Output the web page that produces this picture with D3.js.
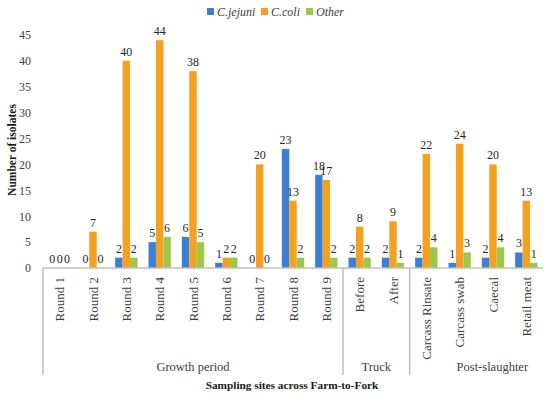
<!DOCTYPE html>
<html>
<head>
<meta charset="utf-8">
<script src="https://cdn.jsdelivr.net/npm/d3@7"></script>
<style>
  body { margin: 0; background: #fff; }
  svg { display: block; font-family: "Liberation Serif", "DejaVu Serif", serif; }
</style>
</head>
<body>
<div id="chart"></div>
<script>
// Chart data
const categories = ["Round 1", "Round 2", "Round 3", "Round 4", "Round 5", "Round 6", "Round 7", "Round 8", "Round 9",
    "Before", "After", "Carcass Rinsate", "Carcass swab", "Caecal", "Retail meat"];
const seriesNames = ["C.jejuni", "C.coli", "Other"];
const jejuni = [0, 0, 2, 5, 6, 1, 0, 23, 18, 2, 2, 2, 1, 2, 3];
const coli = [0, 7, 40, 44, 38, 2, 20, 13, 17, 8, 9, 22, 24, 20, 13];
const other = [0, 0, 2, 6, 5, 2, 0, 2, 2, 2, 1, 4, 3, 4, 1];
const groupNames = ["Growth period", "Truck", "Post-slaughter"];
const groupSizes = [9, 2, 4];
const yTicks = [0, 5, 10, 15, 20, 25, 30, 35, 40, 45];

const width = 550;
const height = 397;
const margin = { top: 35, right: 7, bottom: 129, left: 43 };
const colors = ["#3a7fd5", "#f5a01e", "#9dc94a"];

const series = [jejuni, coli, other];

const svg = d3.select("#chart")
    .append("svg")
    .attr("width", width)
    .attr("height", height);

// Scales
const x = d3.scaleBand()
    .domain(categories)
    .range([margin.left, width - margin.right])
    .paddingInner(0.33)
    .paddingOuter(0.165);

const xSub = d3.scaleBand()
    .domain(seriesNames)
    .range([0, x.bandwidth()]);

const y = d3.scaleLinear()
    .domain([0, 45])
    .range([height - margin.bottom, margin.top]);

const step = x.step();
const x0 = margin.left;

// Bars
const g = svg.append("g");
series.forEach((vals, si) => {
    g.selectAll(".bar" + si)
        .data(vals)
        .enter()
        .append("rect")
        .attr("x", (d, i) => x(categories[i]) + xSub(seriesNames[si]))
        .attr("y", d => y(d))
        .attr("width", xSub.bandwidth())
        .attr("height", d => y(0) - y(d))
        .style("fill", colors[si]);

    g.selectAll(".label" + si)
        .data(vals)
        .enter()
        .append("text")
        .attr("x", (d, i) => x(categories[i]) + xSub(seriesNames[si]) + xSub.bandwidth() / 2)
        .attr("y", d => y(d) - 5)
        .attr("text-anchor", "middle")
        .style("font-size", "12px")
        .style("fill", "#262626")
        .text(d => d);
});

// Y axis (labels only)
const yAxis = d3.axisLeft(y).tickValues(yTicks).tickSize(0).tickPadding(12);
svg.append("g")
    .attr("transform", "translate(" + margin.left + ",0)")
    .call(yAxis)
    .call(a => a.select(".domain").remove())
    .selectAll("text")
    .style("font-size", "12px")
    .style("font-family", "Liberation Serif, serif")
    .style("fill", "#404040");

// X axis line
svg.append("line")
    .attr("x1", x0)
    .attr("x2", x0 + step * categories.length)
    .attr("y1", y(0))
    .attr("y2", y(0))
    .style("stroke", "#bfbfbf")
    .style("stroke-width", 1.5);

// Category labels (rotated)
svg.selectAll(".cat")
    .data(categories)
    .enter()
    .append("text")
    .attr("transform", d => "translate(" + (x(d) + x.bandwidth() / 2 + 4.5) + "," + (y(0) + 9) + ") rotate(-90)")
    .attr("text-anchor", "end")
    .style("font-size", "13px")
    .style("fill", "#404040")
    .text(d => d);

// Group separators and labels
let start = 0;
const bounds = [0];
groupSizes.forEach(n => { start += n; bounds.push(start); });

svg.selectAll(".sep")
    .data(bounds.slice(0, -1))
    .enter()
    .append("line")
    .attr("x1", d => x0 + d * step)
    .attr("x2", d => x0 + d * step)
    .attr("y1", y(0))
    .attr("y2", 375)
    .style("stroke", "#bfbfbf")
    .style("stroke-width", 1.5);

svg.selectAll(".grp")
    .data(groupNames)
    .enter()
    .append("text")
    .attr("x", (d, i) => x0 + (bounds[i] + bounds[i + 1]) / 2 * step + (i === 2 ? 16 : 0))
    .attr("y", 371)
    .attr("text-anchor", "middle")
    .style("font-size", "12.5px")
    .style("fill", "#404040")
    .text(d => d);

// Axis titles
svg.append("text")
    .attr("x", 292)
    .attr("y", 389)
    .attr("text-anchor", "middle")
    .style("font-size", "11.3px")
    .style("font-weight", "bold")
    .style("fill", "#1a1a1a")
    .text("Sampling sites across Farm-to-Fork");

svg.append("text")
    .attr("transform", "translate(16,150) rotate(-90)")
    .attr("text-anchor", "middle")
    .style("font-size", "11.5px")
    .style("font-weight", "bold")
    .style("fill", "#1a1a1a")
    .text("Number of isolates");

// Legend
const legendX = [207, 261, 306];
const legend = svg.selectAll(".legend")
    .data(seriesNames)
    .enter()
    .append("g")
    .attr("transform", (d, i) => "translate(" + legendX[i] + ",7)");

legend.append("rect")
    .attr("width", 7)
    .attr("height", 7)
    .attr("y", 1)
    .style("fill", (d, i) => colors[i]);

legend.append("text")
    .attr("x", 10)
    .attr("y", 9)
    .style("font-size", "12px")
    .style("font-style", "italic")
    .style("fill", "#404040")
    .text(d => d);
</script>
</body>
</html>
